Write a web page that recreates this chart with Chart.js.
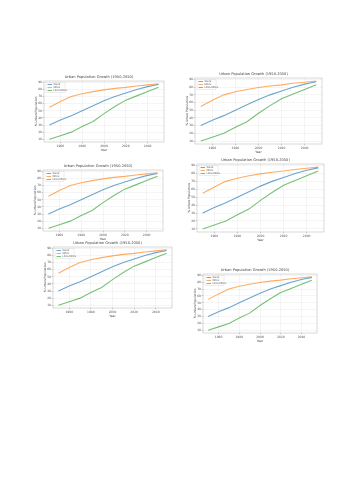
<!DOCTYPE html>
<html><head><meta charset="utf-8">
<script src="https://cdn.jsdelivr.net/npm/chart.js@4"></script>
<style>
html,body{margin:0;padding:0;background:#fff;width:353px;height:500px;overflow:hidden;position:relative}
canvas.c{position:absolute}
</style></head><body>
<script>
// ---- data ----
const years = [1950,1960,1970,1980,1990,2000,2010,2020,2030,2040,2050];
const worldValues = [30,37,43,50,57,64,70,75,80,84,87];
const mdcValues = [55,63,70,74,77,79.5,81.5,83,85,86.5,88];
const ldcValues = [10,15,20,28,35,46,56,65,71,77,83];
const seriesLabels = ['World','MDCs','LDCs/MDCs'];
const xTickValues = [1960,1980,2000,2020,2040];
const yTickValues = [10,20,30,40,50,60,70,80,90];
const chartTitle = 'Urban Population Growth (1950-2050)';
const xAxisTitle = 'Year';
const yAxisTitle = '% Urban Population';

// ---- layout (plot frame boxes on the page) ----
const panels = [
  {l:44,r:164,t:81,b:142},
  {l:195,r:322,t:78,b:144},
  {l:43,r:163,t:170,b:231},
  {l:197,r:324,t:164,b:232},
  {l:53,r:172,t:247,b:308},
  {l:203,r:317,t:274,b:333}
];
const colors = ['rgba(31,119,180,0.65)','rgba(255,127,14,0.65)','rgba(44,160,44,0.65)'];
const FONT = "'DejaVu Sans', sans-serif";

const framePlugin = {
  id:'frameLegend',
  afterDraw(chart){
    const {ctx, chartArea:a} = chart;
    ctx.save();
    ctx.strokeStyle = 'rgba(0,0,0,0.25)';
    ctx.lineWidth = 0.6;
    ctx.strokeRect(a.left, a.top, a.right-a.left, a.bottom-a.top);
    // legend
    const lx = a.left + 2, ly = a.top + 1.5, lw = 19, lh = 10;
    ctx.fillStyle = 'rgba(255,255,255,0.85)';
    ctx.fillRect(lx, ly, lw, lh);
    ctx.strokeStyle = 'rgba(0,0,0,0.15)';
    ctx.lineWidth = 0.5;
    ctx.strokeRect(lx, ly, lw, lh);
    ctx.font = '2.4px ' + FONT;
    ctx.textBaseline = 'middle';
    chart.data.datasets.forEach((ds,i)=>{
      const yy = ly + 2 + i*3;
      ctx.strokeStyle = ds.borderColor;
      ctx.lineWidth = 1;
      ctx.beginPath(); ctx.moveTo(lx+1.5, yy); ctx.lineTo(lx+6, yy); ctx.stroke();
      ctx.fillStyle = '#555';
      ctx.fillText(ds.label, lx+7.5, yy);
    });
    ctx.restore();
  }
};

panels.forEach(p=>{
  const yW = 10, xH = 10, titleH = 6;
  const left = p.l - yW, top = p.t - titleH;
  const width = p.r - left + 3, height = p.b + xH - top;
  const cv = document.createElement('canvas');
  cv.className = 'c';
  cv.style.left = left+'px'; cv.style.top = top+'px';
  cv.style.width = width+'px'; cv.style.height = height+'px';
  cv.width = width; cv.height = height;
  document.body.appendChild(cv);
  new Chart(cv, {
    type:'line',
    data:{
      datasets:[
        {label:seriesLabels[0], data:years.map((y,i)=>({x:y,y:worldValues[i]}))},
        {label:seriesLabels[1], data:years.map((y,i)=>({x:y,y:mdcValues[i]}))},
        {label:seriesLabels[2], data:years.map((y,i)=>({x:y,y:ldcValues[i]}))}
      ].map((d,i)=>Object.assign(d,{borderColor:colors[i],backgroundColor:colors[i],borderWidth:1.1,pointRadius:0,tension:0,fill:false}))
    },
    options:{
      responsive:false, animation:false, devicePixelRatio:1,
      layout:{padding:{left:0,right:3,top:0,bottom:0}},
      plugins:{
        legend:{display:false}, tooltip:{enabled:false},
        title:{display:true,text:chartTitle,color:'#444',font:{family:FONT,size:3.6,weight:'normal',lineHeight:1.2},padding:{top:0,bottom:1.7}}
      },
      scales:{
        x:{type:'linear',min:1945,max:2055,
          afterBuildTicks:s=>{s.ticks = xTickValues.map(v=>({value:v}));},
          afterFit:s=>{s.height = xH;},
          ticks:{font:{family:FONT,size:3},color:'#555',padding:0.5,maxRotation:0,autoSkip:false,callback:v=>String(v)},
          grid:{color:'rgba(0,0,0,0.08)',lineWidth:0.5,tickLength:1.5,tickColor:'rgba(0,0,0,0.35)'},
          border:{display:false},
          title:{display:true,text:xAxisTitle,color:'#444',font:{family:FONT,size:3},padding:{top:0.5,bottom:0}}
        },
        y:{min:6.1,max:91.9,
          afterBuildTicks:s=>{s.ticks = yTickValues.map(v=>({value:v}));},
          afterFit:s=>{s.width = yW;},
          ticks:{font:{family:FONT,size:3},color:'#555',padding:0.5,autoSkip:false,callback:v=>String(v)},
          grid:{color:'rgba(0,0,0,0.08)',lineWidth:0.5,tickLength:1.5,tickColor:'rgba(0,0,0,0.35)'},
          border:{display:false},
          title:{display:true,text:yAxisTitle,color:'#444',font:{family:FONT,size:3},padding:{top:0,bottom:0.5}}
        }
      }
    },
    plugins:[framePlugin]
  });
});
</script>
</body></html>
